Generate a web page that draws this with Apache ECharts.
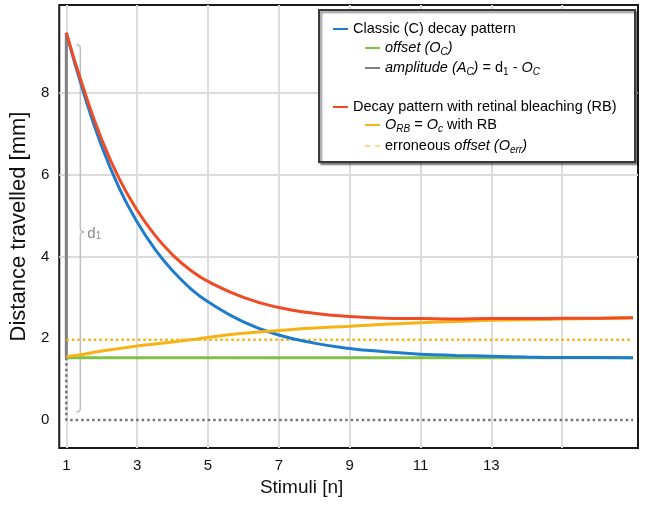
<!DOCTYPE html>
<html><head><meta charset="utf-8">
<script src="https://cdn.jsdelivr.net/npm/echarts@6/dist/echarts.min.js"></script>
<style>html,body{margin:0;padding:0;background:#fff}#c{width:645px;height:512px}</style>
</head><body><div id="c"></div>
<script>
// ---- data ----
const stimuli      = [1,1.5,2,2.5,3,3.5,4,4.5,5,6,7,8,9,10,11,12,13,14,15,16,17];
const classicDecay = [9.47,7.97,6.69,5.66,4.84,4.18,3.65,3.22,2.89,2.40,2.08,1.88,1.75,1.67,1.61,1.58,1.56,1.54,1.53,1.53,1.52];
const rbDecay      = [9.47,8.07,6.86,5.89,5.13,4.52,4.04,3.67,3.39,3.00,2.75,2.61,2.53,2.49,2.48,2.47,2.48,2.48,2.49,2.49,2.50];
const offsetRB     = [1.55,1.61,1.69,1.75,1.81,1.86,1.91,1.96,2.02,2.12,2.19,2.25,2.29,2.34,2.38,2.41,2.44,2.45,2.47,2.48,2.50];
const offsetC = 1.52;
const offsetErr = 1.96;
const d1 = 9.47;
const xLabelValues = [1,3,5,7,9,11,13];
const xGridValues = [1,3,5,7,9,11,13,15];
const yLabelValues = [0,2,4,6,8];
const yGridValues = [4,6,8];

const names = {
  classic: 'Classic (C) decay pattern',
  offC: 'offset (O_C)',
  amp: 'amplitude (A_C)',
  rb: 'Decay pattern with retinal bleaching (RB)',
  offRB: 'O_RB',
  err: 'erroneous offset'
};
const C = {blue:'#1f7ccd', green:'#7dc243', gray:'#808080', red:'#ef4b24', yellow:'#f7b316'};

const first = stimuli[0], last = stimuli[stimuli.length-1];
const pairs = arr => stimuli.map((x,i)=>[x,arr[i]]);

const FONT = 'Liberation Sans';
const FS = 14.5;
const rich = {
  i:{fontStyle:'italic', fontFamily:FONT, fontSize:FS, color:'#000'},
  si:{fontStyle:'italic', fontFamily:FONT, fontSize:10, color:'#000', verticalAlign:'bottom', lineHeight:10},
  s:{fontFamily:FONT, fontSize:10, color:'#000', verticalAlign:'bottom', lineHeight:10},
  n:{fontFamily:FONT, fontSize:FS, color:'#000'}
};
const DASH_ICON = 'path://M0,0h5v1h-5z M10,0h5v1h-5z';
function lg(name, left, cy, fmt, icon){
  return {
    data:[{name:name, icon: icon || 'rect'}], left:left, top:cy-9, padding:0, itemWidth:15, itemHeight:2,
    selectedMode:false, z:6,
    textStyle:{fontFamily:FONT, fontSize:FS, color:'#000', lineHeight:18, rich:rich},
    formatter: fmt ? ()=>fmt : undefined
  };
}

const chart = echarts.init(document.getElementById('c'));
const option = {
  animation:false,
  backgroundColor:'#fff',
  grid:{left:55, right:7, top:5, bottom:64, show:true, borderColor:'#1a1a1a', borderWidth:2, backgroundColor:'transparent'},
  xAxis:{
    type:'value', min:0.8, max:17.14,
    name:'Stimuli [n]', nameLocation:'middle', nameGap:22,
    nameTextStyle:{fontFamily:FONT, fontSize:19, color:'#111', padding:[0,94,0,0]},
    axisLine:{show:false},
    axisTick:{show:false, customValues:xGridValues},
    axisLabel:{customValues:xLabelValues, fontFamily:FONT, fontSize:15, color:'#111', margin:10},
    splitLine:{show:true, lineStyle:{color:'#dcdcdc', width:2}}
  },
  yAxis:{
    type:'value', min:-0.685, max:10.15,
    name:'Distance travelled [mm]', nameLocation:'middle', nameGap:22,
    nameTextStyle:{fontFamily:FONT, fontSize:22, color:'#111'},
    axisLine:{show:false},
    axisTick:{show:false, customValues:yGridValues},
    axisLabel:{customValues:yLabelValues, fontFamily:FONT, fontSize:15, color:'#111', margin:10},
    splitLine:{show:true, lineStyle:{color:'#dcdcdc', width:2}}
  },
  legend:[
    lg(names.classic, 333, 29),
    lg(names.offC, 365, 48, '{i|offset (O}{si|C}{i|)}'),
    lg(names.amp, 365, 68, '{i|amplitude (A}{si|C}{i|)}{n| = d}{s|1}{n| - }{i|O}{si|C}'),
    lg(names.rb, 333, 107),
    lg(names.offRB, 365, 125, '{i|O}{si|RB}{n| = }{i|O}{si|c}{n| with RB}'),
    lg(names.err, 365, 146, '{n|erroneous }{i|offset (O}{si|err}{i|)}', DASH_ICON)
  ],
  series:[
    {name:'zero', type:'line', symbol:'none', silent:true, z:2,
     data:[[first,offsetC],[first,0],[last,0]],
     lineStyle:{color:'#737373', width:2.5, type:[2.5,3]}},
    {name:names.offC, type:'line', symbol:'none', z:3,
     data:[[first,offsetC],[last,offsetC]],
     lineStyle:{color:C.green, width:3}, itemStyle:{color:C.green}},
    {name:names.amp, type:'line', symbol:'none', z:3,
     data:[[first,offsetC],[first,d1]],
     lineStyle:{color:C.gray, width:3}, itemStyle:{color:C.gray}},
    {name:names.err, type:'line', symbol:'none', z:3,
     data:[[first,offsetErr],[last,offsetErr]],
     lineStyle:{color:C.yellow, width:2.5, type:[2.5,3]}, itemStyle:{color:C.yellow}},
    {name:names.classic, type:'line', symbol:'none', smooth:true, z:4,
     data:pairs(classicDecay),
     lineStyle:{color:C.blue, width:3}, itemStyle:{color:C.blue}},
    {name:names.offRB, type:'line', symbol:'none', smooth:true, z:5,
     data:pairs(offsetRB),
     lineStyle:{color:C.yellow, width:3}, itemStyle:{color:C.yellow}},
    {name:names.rb, type:'line', symbol:'none', smooth:true, z:5,
     data:pairs(rbDecay),
     lineStyle:{color:C.red, width:3}, itemStyle:{color:C.red}}
  ]
};
chart.setOption(option);

// annotations: legend frame and d1 brace, positioned through the chart's scales
const pTop = chart.convertToPixel({gridIndex:0}, [first, d1]);
const pBot = chart.convertToPixel({gridIndex:0}, [first, 0]);
const bx = pTop[0] + 14, t = pTop[1] + 12, b = pBot[1] - 8, m = t + (b - t) * 0.51;
const braceStyle = {stroke:'#bdbdbd', lineWidth:1.5, fill:null};
chart.setOption({
  graphic:[
    {type:'rect', z:4, shape:{x:319, y:10, width:316, height:152},
     style:{fill:'#fff', stroke:'#3a3a3a', lineWidth:2, shadowBlur:2, shadowOffsetX:2, shadowOffsetY:2, shadowColor:'rgba(0,0,0,0.45)'}},
    {type:'group', z:3, children:[
      {type:'bezierCurve', shape:{x1:bx-4, y1:t, x2:bx, y2:t+4, cpx1:bx, cpy1:t}, style:braceStyle},
      {type:'line', shape:{x1:bx, y1:t+4, x2:bx, y2:m-4}, style:braceStyle},
      {type:'bezierCurve', shape:{x1:bx, y1:m-4, x2:bx+4, y2:m, cpx1:bx, cpy1:m}, style:braceStyle},
      {type:'bezierCurve', shape:{x1:bx+4, y1:m, x2:bx, y2:m+4, cpx1:bx, cpy1:m}, style:braceStyle},
      {type:'line', shape:{x1:bx, y1:m+4, x2:bx, y2:b-4}, style:braceStyle},
      {type:'bezierCurve', shape:{x1:bx, y1:b-4, x2:bx-4, y2:b, cpx1:bx, cpy1:b}, style:braceStyle}
    ]},
    {type:'text', z:3, x:bx+7, y:m+2, style:{
      text:'{a|d}{b|1}', verticalAlign:'middle',
      rich:{a:{fontFamily:FONT, fontSize:15, fill:'#8a8a8a'}, b:{fontFamily:FONT, fontSize:10, fill:'#8a8a8a', verticalAlign:'bottom', lineHeight:10}}
    }}
  ]
});
</script>
</body></html>
